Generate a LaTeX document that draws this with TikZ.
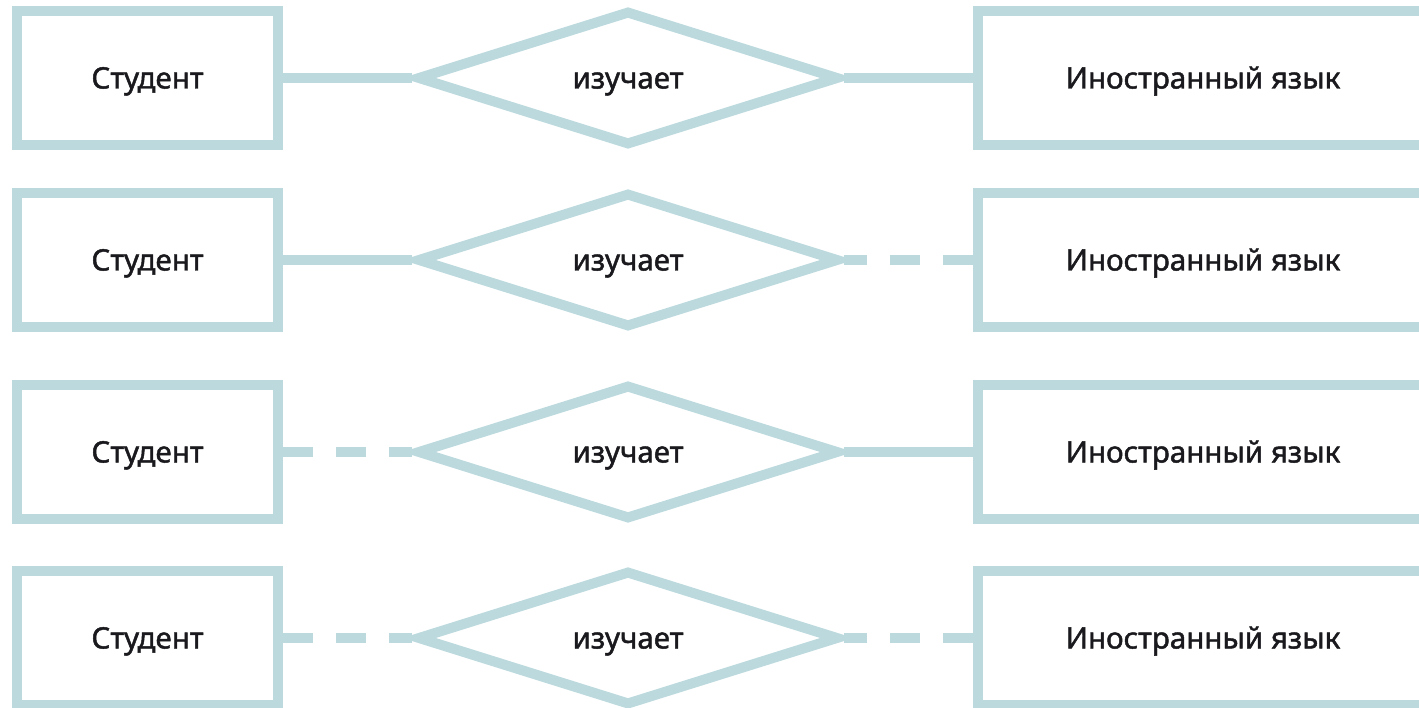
\documentclass[tikz,border=0pt]{standalone}
\usepackage{fontspec}
\setmainfont{Noto Sans}[FakeBold=1.5]
\usetikzlibrary{shapes.geometric}
\definecolor{erline}{RGB}{188,218,222}
\definecolor{ertext}{RGB}{26,26,30}
\tikzset{
  label font/.style={text=ertext, font=\fontsize{29.5}{34}\selectfont\bfseries,
    text height=21pt, text depth=0pt},
  entity/.style={draw=erline, line width=10pt, rectangle, inner sep=0pt,
    minimum height=134pt, label font},
  relation/.style={draw=erline, line width=10pt, diamond, inner sep=0pt,
    minimum width=422pt, minimum height=135pt, aspect=3.13, label font},
  link/.style={draw=erline, line width=10pt},
  dashlink/.style={link, dash pattern=on 30pt off 23pt}
}
\begin{document}
\begin{tikzpicture}[x=1pt, y=-1pt]
  \clip (0,0) rectangle (1419,708);
  \fill[white] (0,0) rectangle (1419,708);
  \foreach \i/\yy/\ls/\rs in {1/78/link/link, 2/260/link/dashlink,
                              3/452/dashlink/link, 4/638/dashlink/dashlink}{
    \node[entity, minimum width=261pt] (stud\i) at (147.5,\yy) {Студент};
    \node[relation] (rel\i) at (628,\yy) {изучает};
    \node[entity, minimum width=450pt] (lang\i) at (1203,\yy) {Иностранный язык};
    \draw[\ls] (stud\i.east) -- (rel\i.west);
    \draw[\rs] (lang\i.west) -- (rel\i.east);
  }
\end{tikzpicture}
\end{document}
